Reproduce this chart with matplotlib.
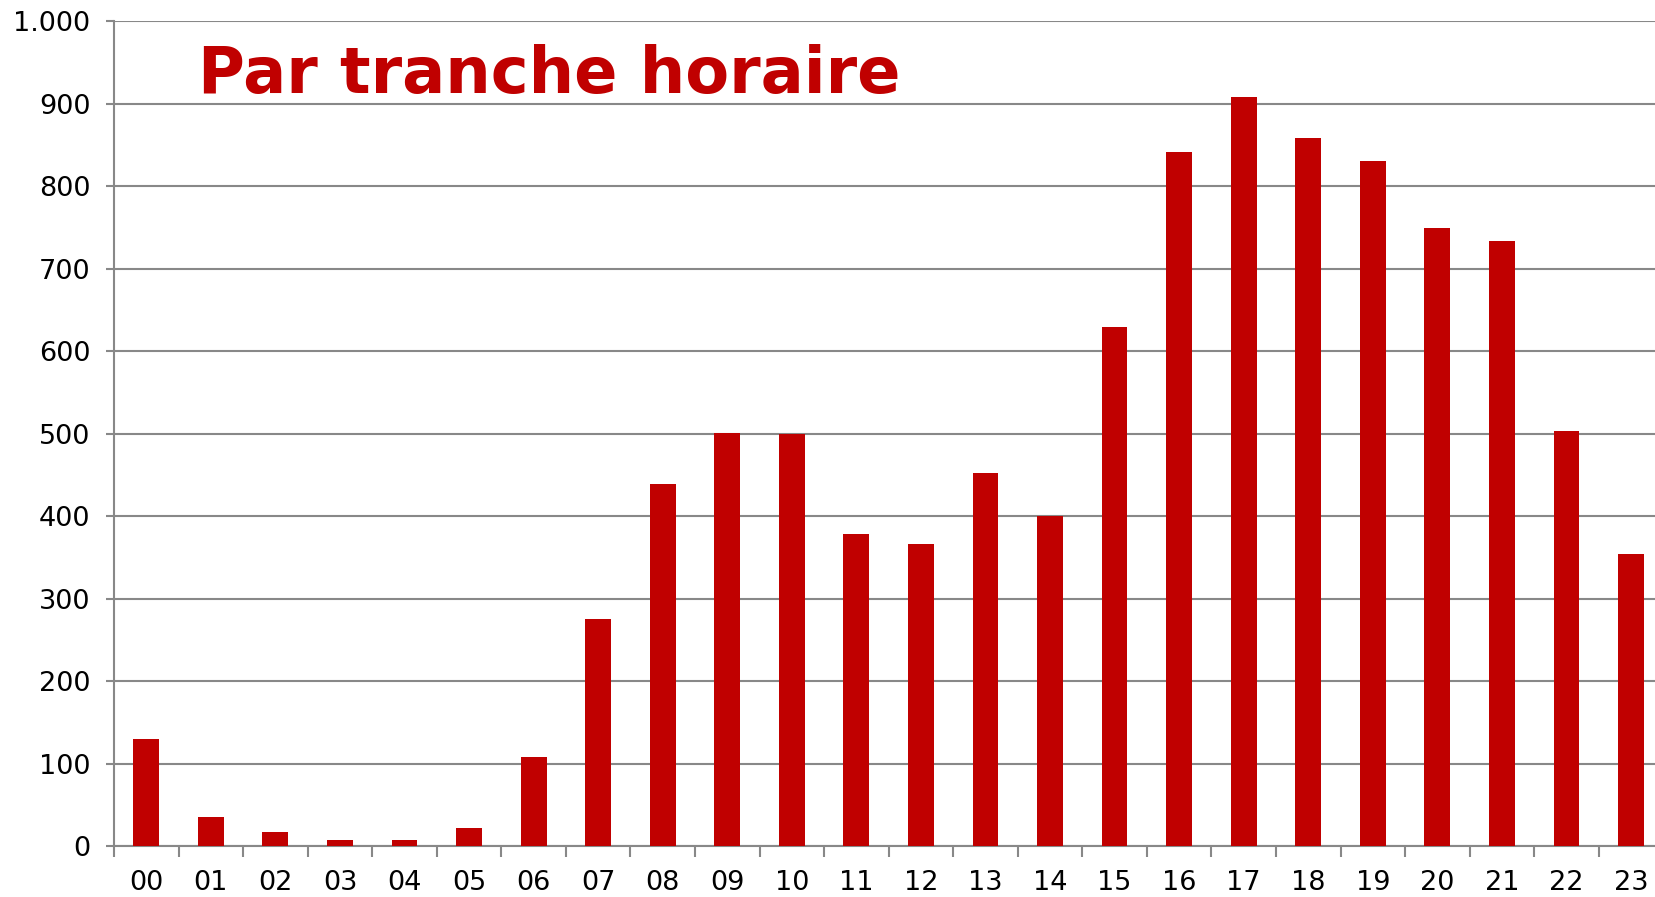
import matplotlib
matplotlib.use("Agg")
import matplotlib.pyplot as plt
from matplotlib.ticker import FuncFormatter

hours = ["00", "01", "02", "03", "04", "05", "06", "07", "08", "09", "10", "11",
         "12", "13", "14", "15", "16", "17", "18", "19", "20", "21", "22", "23"]
values = [130, 36, 17, 8, 8, 23, 109, 275, 439, 501, 500, 379,
          366, 453, 400, 629, 841, 908, 858, 831, 749, 734, 503, 354]
y_ticks = [0, 100, 200, 300, 400, 500, 600, 700, 800, 900, 1000]
title = "Par tranche horaire"

plt.rcParams['font.family'] = ['DejaVu Sans']
fig = plt.figure(figsize=(16.55, 8.97), dpi=100)
ax = fig.add_axes([0.0689, 0.0563, 0.9361, 0.9203])

x = list(range(len(hours)))
ax.bar(x, values, width=0.4, color="#C00000", zorder=3)
ax.set_xlim(-0.5, len(hours) - 0.5)
ax.set_ylim(0, 1000)
ax.set_yticks(y_ticks)
ax.yaxis.set_major_formatter(FuncFormatter(lambda v, p: f"{int(v):,}".replace(",", ".")))
ax.set_xticks(x)
ax.set_xticklabels(hours)
ax.set_xticks([i - 0.5 for i in range(len(hours) + 1)], minor=True)

ax.grid(axis="y", color="#888888", linewidth=1.5, zorder=0)
for s in ["top", "right"]:
    ax.spines[s].set_visible(False)
for s in ["left", "bottom"]:
    ax.spines[s].set_color("#888888")
    ax.spines[s].set_linewidth(1.5)

ax.tick_params(axis="x", which="major", length=0, pad=17, labelsize=19.5, colors="black")
ax.tick_params(axis="x", which="minor", length=8, width=1.5, color="#888888", direction="out")
ax.tick_params(axis="y", length=6, width=1.5, color="#888888", labelsize=19.5, pad=11, labelcolor="black")

fig.text(198 / 1655, 1 - 93 / 897, title, color="#C00000", fontsize=46, fontweight="bold",
         ha="left", va="baseline")

fig.savefig("out.png", dpi=100)
